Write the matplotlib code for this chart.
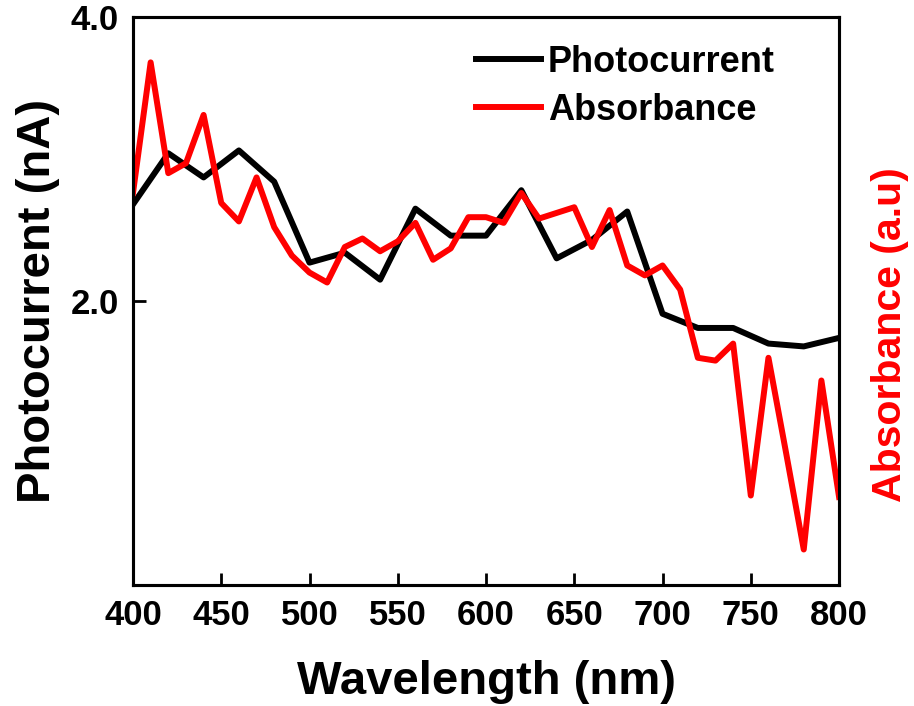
import matplotlib.pyplot as plt
import numpy as np

plt.rcParams['font.family'] = ['Liberation Sans', 'DejaVu Sans']
plt.rcParams['font.weight'] = 'bold'

# photocurrent (nA), read every 20 nm
wl_pc = np.arange(400, 801, 20)
photocurrent = [2.68, 3.04, 2.87, 3.06, 2.84, 2.27, 2.34, 2.15, 2.65, 2.46, 2.46,
                2.78, 2.30, 2.43, 2.63, 1.91, 1.81, 1.81, 1.70, 1.68, 1.74]

# absorbance (a.u), read every 10 nm
wl_abs = np.arange(400, 801, 10)
absorbance = [2.76, 3.68, 2.90, 2.97, 3.31, 2.69, 2.56, 2.87, 2.52, 2.32, 2.20,
              2.13, 2.38, 2.44, 2.35, 2.42, 2.55, 2.29, 2.37, 2.59, 2.59,
              2.55, 2.76, 2.58, 2.62, 2.66, 2.38, 2.64, 2.25, 2.18, 2.25,
              2.08, 1.60, 1.58, 1.70, 0.63, 1.60, 0.93, 0.25, 1.44, 0.62]

fig = plt.figure(figsize=(9.14, 7.06), dpi=100)
ax = fig.add_axes([0.1455, 0.1714, 0.7725, 0.8046])
ax2 = ax.twinx()

l1, = ax.plot(wl_pc, photocurrent, color='black', lw=4.3, label='Photocurrent')
l2, = ax2.plot(wl_abs, absorbance, color='red', lw=4.3, label='Absorbance')

for a in (ax, ax2):
    a.set_xlim(400, 800)
    a.set_ylim(0, 4)
    for s in a.spines.values():
        s.set_linewidth(2.2)

ax.set_xticks(np.arange(400, 801, 50))
ax.set_yticks([2.0, 4.0])
ax.set_yticklabels(['2.0', '4.0'])
ax.tick_params(axis='both', direction='in', length=9, width=2, labelsize=25, pad=10)
ax.tick_params(top=False, right=False)
ax2.set_yticks([])

ax.set_xlabel('Wavelength (nm)', fontsize=34, fontweight='bold', labelpad=20)
ax.set_ylabel('Photocurrent (nA)', fontsize=34, fontweight='bold', labelpad=8)
ax2.set_ylabel('Absorbance (a.u)', fontsize=29.5, fontweight='bold', color='red')
ax2.yaxis.set_label_coords(1.045, 0.44)

ax2.legend(handles=[l1, l2], loc='upper right', frameon=False, fontsize=26,
           handlelength=1.8, handletextpad=0.2, labelspacing=0.35,
           bbox_to_anchor=(0.955, 1.008))

fig.savefig('out.png', dpi=100)
